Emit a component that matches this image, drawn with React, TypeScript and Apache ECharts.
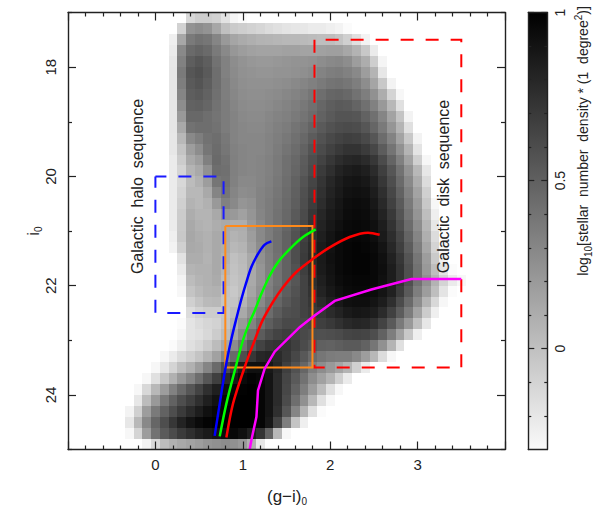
import React, { useEffect, useRef } from "react";
import * as echarts from "echarts";

// log10 density x 100, per row of i0; first column is given in rowStartX, columns every 0.1 in (g-i)0
const r171 = [-10,-5,-5,-7,-15,-25,-28];
const r173 = [-7,25,28,25,15,2,-3,-5,-7,-9,-12,-14,-16,-17,-18,-20,-20,-22,-24,-28];
const r175 = [-22,15,38,42,40,32,22,16,13,11,9,8,7,6,6,5,4,3,3,0,-6,-14,-24];
const r177 = [-20,30,46,49,46,38,30,23,20,18,17,17,17,18,18,17,17,18,19,19,15,9,-2,-20];
const r179 = [-18,34,52,56,52,42,34,28,25,23,22,22,23,24,25,25,26,28,30,31,28,20,12,-5,-25];
const r181 = [-17,38,56,59,54,44,34,29,26,25,24,24,25,25,26,27,29,33,36,37,34,30,20,8,-18];
const r183 = [-17,36,54,57,52,44,36,30,27,26,26,26,27,28,30,32,35,38,41,42,40,36,28,16,-2,-24];
const r185 = [-17,32,52,54,50,43,36,31,28,27,27,28,29,31,33,36,40,44,48,49,47,42,36,26,12,-8,-26];
const r187 = [-17,28,50,51,48,42,37,32,29,28,28,29,31,33,36,39,43,48,52,54,53,49,43,34,22,6,-14];
const r189 = [-17,22,47,47,44,41,37,33,30,29,29,31,33,35,38,41,45,50,54,57,57,56,50,43,32,17,0,-24];
const r191 = [-17,14,42,44,44,42,37,33,31,30,30,32,35,37,41,44,49,54,58,61,62,61,56,48,38,24,8,-14];
const r193 = [-18,6,30,36,42,44,39,33,31,31,31,33,36,39,43,47,53,58,63,66,68,67,63,56,45,33,17,-2,-24];
const r195 = [-18,0,20,28,40,45,40,34,32,31,31,33,37,41,45,50,57,62,67,71,74,74,70,64,53,41,26,8,-16];
const r197 = [-20,-4,14,20,35,46,42,35,32,31,32,34,38,43,47,53,60,66,72,77,80,81,78,72,62,49,35,17,-6,-26];
const r199 = [-20,-8,8,14,26,44,43,35,32,31,32,34,38,43,48,54,62,70,76,82,85,87,84,78,68,56,42,25,6,-18];
const r201 = [-20,-10,4,10,20,40,42,34,30,30,32,35,39,44,50,57,65,73,80,85,89,90,88,82,72,60,46,30,12,-12];
const r203 = [-20,-8,6,6,14,32,40,32,28,29,33,36,40,45,51,59,67,75,82,87,91,92,91,85,76,64,50,34,17,-6];
const r205 = [-20,-6,9,6,10,22,34,30,24,26,33,37,41,46,52,60,69,77,84,89,93,94,93,88,79,67,54,38,21,-2,-26];
const r207 = [-20,-4,12,8,8,14,24,22,18,24,32,37,42,47,54,62,72,80,86,90,94,95,94,90,82,71,57,41,24,3,-22];
const r209 = [-20,-3,14,10,8,12,14,12,12,22,30,37,42,48,56,64,74,82,88,92,95,96,95,92,85,74,61,45,28,7,-18];
const r211 = [-22,-2,15,12,10,14,13,9,11,20,30,37,43,50,58,67,76,84,90,94,96,97,96,93,87,77,65,49,32,11,-12,-28];
const r213 = [-24,-6,14,13,10,14,12,6,8,18,28,36,43,50,60,69,78,86,91,95,97,98,97,95,90,80,68,53,36,15,-8,-26];
const r215 = [-15,12,12,9,14,10,2,5,14,26,35,42,50,60,70,79,87,92,95,97,98,98,96,92,83,72,57,40,20,-3,-22];
const r217 = [-20,8,10,10,14,7,1,4,14,24,34,42,50,58,68,78,86,91,95,97,98,98,96,93,85,74,59,42,22,3,-16,-28];
const r219 = [-24,4,8,10,13,4,0,3,14,24,34,42,50,56,66,76,84,90,94,96,97,97,96,92,85,74,59,42,26,9,-8,-20,-26];
const r221 = [-26,0,5,9,10,1,-2,3,16,26,36,44,52,58,66,74,82,88,92,95,96,96,94,90,83,70,54,36,20,3,-16,-28];
const r223 = [-6,0,5,6,0,0,8,20,30,40,48,55,60,66,72,78,84,88,92,93,93,90,85,76,62,46,28,8,-10,-26];
const r225 = [-12,-7,-4,-4,-1,4,14,25,36,45,53,59,61,66,70,73,78,82,87,89,88,85,78,67,53,37,17,-4,-22];
const r227 = [-28,-16,-12,-9,-7,0,10,22,33,44,52,58,63,63,64,66,68,71,75,79,81,80,75,66,54,38,22,2,-18];
const r229 = [-26,-16,-14,-10,-4,4,16,30,43,53,61,66,69,66,63,60,59,60,62,65,66,65,60,50,36,18,-2,-22];
const r231 = [-28,-22,-14,-10,-4,4,14,28,42,56,66,72,74,73,68,62,56,51,50,52,54,54,50,40,26,8,-14];
const r233 = [-26,-20,-12,-6,0,8,18,32,46,60,72,80,82,78,72,64,55,46,40,37,36,36,30,20,6,-12,-26];
const r235 = [-26,-18,-8,2,10,20,32,46,60,74,86,92,92,88,80,68,58,48,36,28,22,16,8,-6,-20];
const r237 = [-26,-14,-2,10,22,32,44,56,68,78,88,95,98,96,90,78,65,54,42,28,18,8,-6,-20];
const r239 = [-26,-10,6,20,34,46,56,66,76,84,92,97,99,100,97,90,78,64,50,36,20,4,-14,-26];
const r241 = [-18,4,22,38,50,60,68,76,84,91,97,100,100,100,97,90,78,62,44,26,6,-14,-26];
const r243 = [-24,-6,20,38,50,60,70,78,85,92,96,99,100,100,100,97,90,76,56,32,8,-14,-28];
const r245 = [-18,6,30,48,60,72,82,90,95,98,100,100,100,100,100,97,88,66,36,0,-22];
const r247 = [-26,-8,20,42,54,62,70,76,82,86,90,94,96,92,84,74,50,6,-26];
const r249 = [-24,-10,4,10,14,17,20,24,26,28,26,22,10,-18];

const densityRows = [r171,r173,r175,r177,r179,r181,r183,r185,r187,r189,r191,r193,r195,r197,r199,r201,r203,r205,r207,r209,r211,r213,r215,r217,r219,r221,r223,r225,r227,r229,r231,r233,r235,r237,r239,r241,r243,r245,r247,r249];
const rowI = [17.1,17.3,17.5,17.7,17.9,18.1,18.3,18.5,18.7,18.9,19.1,19.3,19.5,19.7,19.9,20.1,20.3,20.5,20.7,20.9,21.1,21.3,21.5,21.7,21.9,22.1,22.3,22.5,22.7,22.9,23.1,23.3,23.5,23.7,23.9,24.1,24.3,24.5,24.7,24.9];
const rowStartX = [0.4,0.3,0.2,0.2,0.2,0.2,0.2,0.2,0.2,0.2,0.2,0.2,0.2,0.2,0.2,0.2,0.2,0.2,0.2,0.2,0.2,0.2,0.3,0.3,0.3,0.3,0.4,0.4,0.3,0.3,0.2,0.1,0.0,-0.1,-0.2,-0.2,-0.3,-0.3,-0.3,-0.1];

const blueCurve = [[0.678,24.75],[0.736,24.16],[0.804,23.49],[0.866,23.0],[0.922,22.63],[0.985,22.24],[1.04,21.94],[1.098,21.66],[1.174,21.42],[1.251,21.25],[1.327,21.19]];
const greenCurve = [[0.736,24.76],[0.812,24.16],[0.919,23.49],[1.002,23.0],[1.083,22.65],[1.136,22.46],[1.213,22.15],[1.308,21.82],[1.403,21.57],[1.537,21.33],[1.689,21.11],[1.834,20.97]];
const redCurve = [[0.812,24.78],[0.888,24.16],[1.022,23.49],[1.136,23.0],[1.222,22.65],[1.345,22.30],[1.46,22.03],[1.613,21.75],[1.803,21.51],[1.995,21.30],[2.223,21.11],[2.433,21.03],[2.566,21.07]];
const magentaCurve = [[1.079,25.0],[1.098,24.83],[1.156,24.4],[1.174,23.92],[1.25,23.52],[1.365,23.21],[1.651,22.76],[1.803,22.57],[2.052,22.28],[2.471,22.07],[2.929,21.88],[3.5,21.88]];
const blueBox = [[0,20],[0.78,20],[0.78,22.5],[0,22.5],[0,20]];
const orangeBox = [[0.8,20.91],[1.797,20.91],[1.797,23.5],[0.8,23.5],[0.8,20.91]];
const redBox = [[1.82,17.5],[1.82,23.5],[3.5,23.5],[3.5,17.5],[1.82,17.5]];

const xLabels = [0, 1, 2, 3];
const yMajor = [18, 20, 22, 24];
const yMinor = [17, 19, 21, 23, 25];
const barMajor = [0, 0.5, 1];
const barMinor = [-0.2, -0.1, 0.1, 0.2, 0.3, 0.4, 0.6, 0.7, 0.8, 0.9];
const barRange = [[-0.3, 1]];

const FONT = '"Liberation Sans", sans-serif';
const INK = "#222";
const grayOf = (v: number) => {
  const g = Math.round(255 * (1 - (v + 0.3) / 1.3));
  return `rgb(${g},${g},${g})`;
};

const densityData: number[][] = [];
densityRows.forEach((row, r) => {
  row.forEach((v, c) => {
    densityData.push([Math.round((rowStartX[r] + c * 0.1) * 10) / 10, rowI[r], v / 100]);
  });
});

const line = { show: true, onZero: false, lineStyle: { color: INK, width: 1.4 } };
const hiddenLine = { show: false, onZero: false };
const tick = (len: number, values?: number[]) => ({
  show: true, inside: true, length: len, lineStyle: { color: INK, width: 1.2 },
  ...(values ? { customValues: values } : {}),
});
const noLabel = { show: false };
const minor = { show: true, splitNumber: 5, length: 4, lineStyle: { color: INK, width: 1.2 } };

const xAxes = [
  { gridIndex: 0, type: "value", position: "bottom", min: -1, max: 4, interval: 1, splitLine: { show: false }, axisLine: line,
    axisTick: tick(8), minorTick: minor,
    axisLabel: { show: true, customValues: xLabels, margin: 7, fontFamily: FONT, fontSize: 15, color: INK }, z: 10 },
  { gridIndex: 0, type: "value", position: "top", min: -1, max: 4, interval: 1, splitLine: { show: false }, axisLine: line,
    axisTick: tick(8), minorTick: minor,
    axisLabel: noLabel, z: 10 },
  { gridIndex: 1, type: "value", position: "bottom", min: 0, max: 1, splitLine: { show: false }, axisLine: line, axisTick: { show: false }, axisLabel: noLabel, z: 10 },
  { gridIndex: 1, type: "value", position: "top", min: 0, max: 1, splitLine: { show: false }, axisLine: line, axisTick: { show: false }, axisLabel: noLabel, z: 10 },
];

const yBase = { gridIndex: 0, type: "value", inverse: true, min: 17, max: 25, splitLine: { show: false }, z: 10 };
const barBase = { gridIndex: 1, type: "value", min: -0.3, max: 1, splitLine: { show: false }, z: 10 };
const yAxes = [
  { ...yBase, position: "left", axisLine: line, axisTick: tick(8, yMajor),
    axisLabel: { show: true, customValues: yMajor, rotate: 90, margin: 10, fontFamily: FONT, fontSize: 15, color: INK } },
  { ...yBase, position: "right", axisLine: line, axisTick: tick(8, yMajor), axisLabel: noLabel },
  { ...yBase, position: "left", axisLine: hiddenLine, axisTick: tick(4, yMinor), axisLabel: noLabel },
  { ...yBase, position: "right", axisLine: hiddenLine, axisTick: tick(4, yMinor), axisLabel: noLabel },
  { ...barBase, position: "left", axisLine: line, axisTick: tick(6, barMajor), axisLabel: noLabel },
  { ...barBase, position: "right", axisLine: line, axisTick: tick(6, barMajor),
    axisLabel: { show: true, customValues: barMajor, rotate: 90, margin: 6, fontFamily: FONT, fontSize: 14, color: INK,
      formatter: (v: number) => String(v) } },
  { ...barBase, position: "left", axisLine: hiddenLine, axisTick: tick(3, barMinor), axisLabel: noLabel },
  { ...barBase, position: "right", axisLine: hiddenLine, axisTick: tick(3, barMinor), axisLabel: noLabel },
];

const lineSeries = (data: number[][], color: string, width: number, z: number, smooth: any = false, type: any = "solid", dashOffset = 0) => ({
  type: "line", xAxisIndex: 0, yAxisIndex: 0, data, symbol: "none", smooth, silent: true, z,
  lineStyle: { color, width, type, dashOffset, cap: "butt", join: "miter" },
});

const vText = (x: number, y: number, text: string) => ({
  type: "text", x, y, rotation: Math.PI / 2, z: 20,
  style: { fontFamily: FONT, fontSize: 16, fill: INK, text, textAlign: "center", textVerticalAlign: "middle" },
});
const richStyles = {
  m: { fontFamily: FONT, fontSize: 14, lineHeight: 20, verticalAlign: "middle", fill: INK, color: INK },
  b: { fontFamily: FONT, fontSize: 17, lineHeight: 20, verticalAlign: "middle", fill: INK, color: INK },
  sub: { fontFamily: FONT, fontSize: 10, lineHeight: 20, verticalAlign: "bottom", padding: [6, 0, 0, 0], fill: INK, color: INK },
  sup: { fontFamily: FONT, fontSize: 10, lineHeight: 20, verticalAlign: "top", padding: [0, 0, 6, 0], fill: INK, color: INK },
};

const option: any = {
  animation: false,
  backgroundColor: "#fff",
  grid: [
    { left: 68, top: 12.5, width: 437, height: 437 },
    { left: 528.3, top: 12.5, width: 19, height: 437 },
  ],
  xAxis: xAxes,
  yAxis: yAxes,
  series: [
    {
      type: "custom", xAxisIndex: 0, yAxisIndex: 0, data: densityData, silent: true, z: 1,
      encode: { x: 0, y: 1 },
      renderItem: (_: any, api: any) => {
        const x = api.value(0), y = api.value(1), v = api.value(2);
        const a = api.coord([x - 0.05, y - 0.1]);
        const b = api.coord([x + 0.05, y + 0.1]);
        const ax = Math.round(a[0]), ay = Math.round(a[1]);
        return { type: "rect", shape: { x: ax, y: ay, width: Math.round(b[0]) - ax, height: Math.round(b[1]) - ay }, style: { fill: grayOf(v) } };
      },
    },
    {
      type: "custom", xAxisIndex: 2, yAxisIndex: 4, data: barRange, silent: true, z: 1,
      encode: { y: [0, 1] },
      renderItem: (_: any, api: any) => {
        const lo = api.coord([0, api.value(0)]);
        const hi = api.coord([1, api.value(1)]);
        return {
          type: "rect",
          shape: { x: hi[0] - 19, y: hi[1], width: 19, height: lo[1] - hi[1] },
          style: { fill: new echarts.graphic.LinearGradient(0, 0, 0, 1, [{ offset: 0, color: "#000" }, { offset: 1, color: "#fafafa" }]) },
        };
      },
    },
    lineSeries(blueBox, "#1a1aff", 2, 3, false, [13, 12], 2),
    lineSeries(redBox, "#ff0000", 2, 3, false, [13, 12]),
    lineSeries(orangeBox, "#ff8a1a", 2, 4),
    lineSeries(magentaCurve, "#ff00ff", 2.5, 5),
    lineSeries(redCurve, "#ff0000", 2.5, 5, 0.3),
    lineSeries(greenCurve, "#00ff00", 2.5, 5, 0.3),
    lineSeries(blueCurve, "#0000ff", 2.5, 5, 0.3),
  ],
  graphic: [
    vText(137, 186.5, "Galactic  halo  sequence"),
    vText(443, 186.5, "Galactic  disk  sequence"),
    {
      type: "text", x: 287, y: 496, z: 20,
      style: { text: "{b|(g\u2212i)}{sub|0}", rich: richStyles, textAlign: "center", textVerticalAlign: "middle" },
    },
    {
      type: "text", x: 33, y: 231, rotation: Math.PI / 2, z: 20,
      style: { text: "{b|i}{sub|0}", rich: richStyles, textAlign: "center", textVerticalAlign: "middle" },
    },
    {
      type: "text", x: 583, y: 141, rotation: Math.PI / 2, z: 20,
      style: {
        text: "{m|log}{sub|10}{m|[stellar  number  density * (1  degree}{sup|2}{m|)]}",
        rich: richStyles, textAlign: "center", textVerticalAlign: "middle",
      },
    },
  ],
};

export default function App() {
  const ref = useRef<HTMLDivElement>(null);
  useEffect(() => {
    const chart = echarts.init(ref.current!, undefined, { renderer: "svg" });
    chart.setOption(option);
    return () => chart.dispose();
  }, []);
  return <div ref={ref} style={{ position: "fixed", left: 0, top: 0, width: 598, height: 510, background: "#fff" }} />;
}
